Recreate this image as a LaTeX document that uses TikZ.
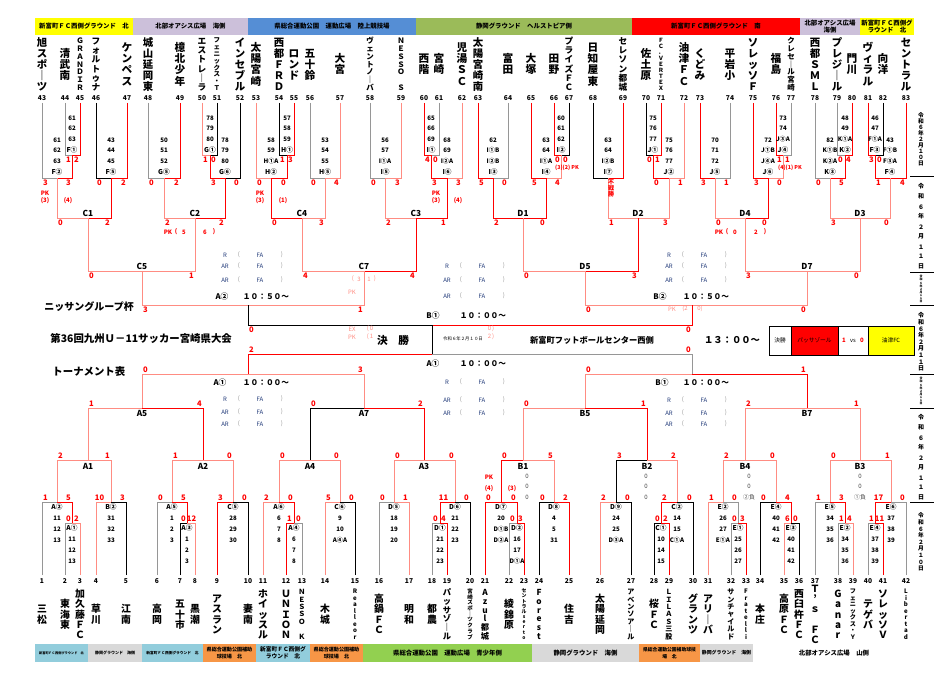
\documentclass[tikz,border=0pt]{standalone}
\usepackage{fontspec}
\setmainfont{Noto Sans CJK JP}
\makeatletter
\def\vt@a#1{\ifx\relax#1\else\hbox to 1em{\hss\vrule height .93em depth .12em width 0pt\relax#1\hss}\expandafter\vt@a\fi}
\newcommand\vt[1]{\vbox{\offinterlineskip\vt@a#1\relax}}
\def\vt@b#1{\ifx\relax#1\else\hbox to 1em{\hss\vrule height \vt@h depth 0pt width 0pt\relax#1\hss}\expandafter\vt@b\fi}
\newcommand\vts[2]{\vbox{\offinterlineskip\def\vt@h{#1}\vt@b#2\relax}}
\makeatother
\definecolor{lnR}{RGB}{255,0,0}
\definecolor{lnS}{RGB}{255,140,130}
\definecolor{lnG}{RGB}{150,150,150}
\definecolor{lnK}{RGB}{0,0,0}
\definecolor{hYel}{RGB}{255,255,0}
\definecolor{hLav}{RGB}{204,192,218}
\definecolor{hBlu}{RGB}{85,142,213}
\definecolor{hGrn}{RGB}{155,187,89}
\definecolor{hRed}{RGB}{255,0,0}
\definecolor{bLB}{RGB}{146,205,220}
\definecolor{bGy}{RGB}{217,217,217}
\definecolor{bOr}{RGB}{247,150,70}
\definecolor{bGr}{RGB}{146,208,80}
\definecolor{refc}{RGB}{31,56,120}
\tikzset{
 sc/.style={inner sep=0pt,text=lnR,font=\fontsize{5.7}{5.7}\selectfont\bfseries},
 tnum/.style={inner sep=0pt,font=\fontsize{5}{5}\selectfont\bfseries},
 tnm/.style={inner sep=0pt},
 stk/.style={inner sep=0pt,font=\fontsize{4.6}{4.6}\selectfont\bfseries},
 mlab/.style={inner sep=0pt,font=\fontsize{6.2}{6.2}\selectfont\bfseries},
 slab/.style={inner sep=0pt,font=\fontsize{5}{5}\selectfont\bfseries},
 hb/.style={inner sep=0pt,align=center,font=\fontsize{4.8}{5.6}\selectfont\bfseries},
 refx/.style={inner sep=0pt,text=refc,font=\fontsize{4.5}{4.5}\selectfont},
 tim/.style={inner sep=0pt,font=\fontsize{5.8}{5.8}\selectfont\bfseries},
 pkr/.style={inner sep=0pt,text=lnR,font=\fontsize{4.5}{4.5}\selectfont\bfseries},
 pks/.style={inner sep=0pt,text=lnS,font=\fontsize{4.5}{4.5}\selectfont},
 zz/.style={inner sep=0pt,text=black!70,font=\fontsize{4.5}{4.5}\selectfont},
 ttl/.style={inner sep=0pt,anchor=west,font=\fontsize{7.5}{7.5}\selectfont\bfseries},
}
\newcommand\TM[8]{\draw[#3] (#1,#2) |- (#7,#8); \draw[#6] (#4,#5) |- (#7,#8);}
\newcommand\ST[5]{\node[sc] (sl#1x#3) at ({#1+3.5},{#3+4.5}) {#4};\node[sc] (sr#2x#3) at ({#2-3.5},{#3+4.5}) {#5};}
\newcommand\SB[5]{\node[sc] (bl#1x#3) at ({#1+3.5},{#3-4.5}) {#4};\node[sc] (br#2x#3) at ({#2-3.5},{#3-4.5}) {#5};}
\newcommand\TT[4]{\node[tnum] (n#1) at (#2,98) {#1};\node[tnm,font=\fontsize{#3}{#3}\selectfont\bfseries] (t#1) at (#2,64) {\vt{#4}};}
\newcommand\TB[4]{\node[tnum] (n#1) at (#2,581) {#1};\node[tnm,font=\fontsize{#3}{#3}\selectfont\bfseries] (t#1) at (#2,614) {\vt{#4}};}
\newcommand\SKT[6]{\node[stk] (k#1x#2a) at (#1,#2) {#3};\node[stk] (k#1x#2b) at (#1,{#2+10.5}) {#4};\node[stk] (k#1x#2c) at (#1,{#2+21}) {#5};\node[slab] (k#1x#2l) at (#1,{#2+32}) {#6};}
\newcommand\SKB[6]{\node[slab] (k#1x#2l) at (#1,#2) {#3};\node[stk] (k#1x#2a) at (#1,{#2+11}) {#4};\node[stk] (k#1x#2b) at (#1,{#2+22}) {#5};\node[stk] (k#1x#2c) at (#1,{#2+33}) {#6};}
\newcommand\RL[3]{\node[refx] (rl#1x#2) at (#1,#2) {#3};\node[refx,text=lnG] (ro#1x#2) at ({#1+14},#2) {(};\node[refx] (rf#1x#2) at ({#1+35},#2) {FA};\node[refx,text=lnG] (rc#1x#2) at ({#1+57},#2) {)};}
\newcommand\RAR[4]{\RL{#1}{#2}{R}\RL{#1}{#3}{AR}\RL{#1}{#4}{AR}}
\begin{document}
\begin{tikzpicture}[x=0.75pt,y=-0.75pt,line width=0.7pt]
\useasboundingbox (0,0) rectangle (948,681);
\fill[white] (0,0) rectangle (948,681);
% ---------- top header bars
\fill[hYel] (35,18) rectangle (133,35); \node[hb] (h1) at (84,26.5) {新富町ＦＣ西側グラウンド　北};
\fill[hLav] (133,18) rectangle (248,35); \node[hb] (h2) at (190.5,26.5) {北部オアシス広場　海側};
\fill[hBlu] (248,18) rectangle (416,35); \node[hb] (h3) at (332,26.5) {県総合運動公園　運動広場　陸上競技場};
\fill[hGrn] (416,18) rectangle (632,35); \node[hb] (h4) at (524,26.5) {静岡グラウンド　ヘルストピア側};
\fill[hRed] (632,18) rectangle (800,35); \node[hb] (h5) at (716,26.5) {新富町ＦＣ西側グラウンド　南};
\fill[hLav] (800,18) rectangle (860,35); \node[hb] (h6) at (830,26.5) {北部オアシス広場\\海側};
\fill[hYel] (860,18) rectangle (914,35); \node[hb] (h7) at (887,26.5) {新富町ＦＣ西側グ\\ラウンド　北};
% ---------- bottom header bars
\fill[bLB] (35,644) rectangle (88,662); \node[hb,font=\fontsize{2.4}{3}\selectfont\bfseries] (b1) at (61.5,653) {新富町ＦＣ西側グラウンド　北};
\fill[bGy] (88,644) rectangle (142,662); \node[hb,font=\fontsize{3}{3.5}\selectfont\bfseries] (b2) at (115,653) {静岡グラウンド　海側};
\fill[bLB] (142,644) rectangle (203,662); \node[hb,font=\fontsize{2.8}{3.3}\selectfont\bfseries] (b3) at (172.5,653) {新富町ＦＣ西側グラウンド　北};
\fill[bOr] (203,644) rectangle (256,662); \node[hb,font=\fontsize{3.8}{4.8}\selectfont\bfseries] (b4) at (229.5,653) {県総合運動公園補助\\球技場　北};
\fill[bLB] (256,644) rectangle (310,662); \node[hb,font=\fontsize{4.3}{5.3}\selectfont\bfseries] (b5) at (283,653) {新富町ＦＣ西側グ\\ラウンド　北};
\fill[bOr] (310,644) rectangle (363,662); \node[hb,font=\fontsize{3.8}{4.8}\selectfont\bfseries] (b6) at (336.5,653) {県総合運動公園補助\\球技場　北};
\fill[bGr] (363,644) rectangle (532,662); \node[hb] (b7) at (447.5,653) {県総合運動公園　運動広場　青少年側};
\fill[bGy] (532,644) rectangle (639,662); \node[hb] (b8) at (585.5,653) {静岡グラウンド　海側};
\fill[bOr] (639,644) rectangle (700,662); \node[hb,font=\fontsize{3.6}{4.8}\selectfont\bfseries] (b9) at (669.5,653) {県総合運動公園補助球技\\場　北};
\fill[bGy] (700,644) rectangle (753,662); \node[hb,font=\fontsize{3.7}{4.5}\selectfont\bfseries] (b10) at (726.5,653) {静岡グラウンド　海側};
\node[hb] (b11) at (834,653) {北部オアシス広場　山側};
% ---------- top teams
\TT{43}{42}{7.8}{旭スポ｜ツ}
\TT{44}{65}{8}{清武南}
\TT{45}{80}{5.6}{ＧＲＡＮＤＩＲ}
\TT{46}{96}{6.5}{フォルトゥナ}
\TT{47}{127}{8}{ケンペス}
\TT{48}{148}{7.8}{城山延岡東}
\TT{49}{180}{8}{檍北少年}
\TT{50}{202}{6.5}{エストレ｜ラ}
\TT{51}{217}{4.9}{フェニックス・Ｔ}
\TT{52}{240}{7.8}{インセブル}
\TT{53}{256}{8}{太陽宮崎}
\TT{54}{279}{7.8}{西都ＦＲＤ}
\TT{55}{294}{8}{ロンド}
\TT{56}{310}{8}{五十鈴}
\TT{57}{340}{8}{大宮}
\TT{58}{370}{5.6}{ヴェントノ｜バ}
\TT{59}{401}{5.6}{ＮＥＳＳＯ　Ｓ}
\TT{60}{424}{8}{西階}
\TT{61}{439}{8}{宮崎}
\TT{62}{462}{8}{児湯ＳＣ}
\TT{63}{478}{7.8}{太陽宮崎南}
\TT{64}{508}{8}{富田}
\TT{65}{531}{8}{大塚}
\TT{66}{554}{8}{田野}
\TT{67}{569}{6.5}{プライズＦＣ}
\TT{68}{593}{8}{日知屋東}
\TT{69}{623}{6.5}{セレソン都城}
\TT{70}{646}{8}{佐土原}
\TT{71}{661}{4.3}{ＦＣ．ＶＥＲＴＥＸ}
\TT{72}{684}{8}{油津ＦＣ}
\TT{73}{700}{8}{くどみ}
\TT{74}{730}{8}{平岩小}
\TT{75}{753}{7.8}{ソレッソＦ}
\TT{76}{776}{8}{福島}
\TT{77}{791}{5.6}{クレセ｜ル宮崎}
\TT{78}{815}{7.8}{西都ＳＭＬ}
\TT{79}{837}{7.8}{プレジ｜ル}
\TT{80}{852}{8}{門川}
\TT{81}{868}{8}{ヴィラル}
\TT{82}{883}{8}{向洋}
\TT{83}{906}{7.8}{セントラル}
% ---------- bottom teams
\TB{1}{42}{7.4}{三松}
\TB{2}{65}{7.4}{東海東}
\TB{3}{80}{7.4}{加久藤ＦＣ}
\TB{4}{96}{7.4}{草川}
\TB{5}{126}{7.4}{江南}
\TB{6}{157}{7.4}{高岡}
\TB{7}{180}{7.4}{五十市}
\TB{8}{195}{7.4}{黒潮}
\TB{9}{217}{7.4}{アスラン}
\TB{10}{248}{7.4}{妻南}
\TB{11}{263}{7.4}{ホイッスル}
\TB{12}{286}{7.4}{ＵＮＩＯＮ}
\TB{13}{302}{5.3}{ＮＥＳＳＯ　Ｋ}
\TB{14}{325}{7.4}{木城}
\TB{15}{355}{4.6}{Realleor}
\TB{16}{379}{7.4}{高鍋ＦＣ}
\TB{17}{409}{7.4}{明和}
\TB{18}{432}{7.4}{都農}
\TB{19}{447}{6.2}{パッサゾ｜ル}
\TB{20}{470}{4.1}{宮崎スポ｜ツクラブ}
\TB{21}{485}{6.2}{Azul都城}
\TB{22}{509}{7.4}{綾錦原}
\TB{23}{524}{3.7}{セントラルserto}
\TB{24}{539}{6.2}{Forest}
\TB{25}{569}{7.4}{住吉}
\TB{26}{600}{7.4}{太陽延岡}
\TB{27}{631}{5.3}{アベンソア｜ル}
\TB{28}{654}{7.4}{桜ＦＣ}
\TB{29}{669}{5.3}{ＬＩＬＡＳ三股}
\TB{30}{693}{7.4}{グランツ}
\TB{31}{708}{7.4}{アリ｜バ}
\TB{32}{731}{5.3}{サンチャイルド}
\TB{33}{746}{4.6}{Fratelli}
\TB{34}{760}{7.4}{本庄}
\TB{35}{784}{7.4}{高原ＦＣ}
\TB{36}{799}{7.4}{西臼杵ＦＣ}
\TB{37}{815}{7.4}{Ｔ’ｓ　ＦＣ}
\TB{38}{838}{7.4}{Ganar}
\TB{39}{853}{4.6}{フェニックス・Ｙ}
\TB{40}{868}{7.4}{テゲバ}
\TB{41}{883}{7.4}{ソレッソＶ}
\TB{42}{906}{4.6}{Libertad}
% ---------- top bracket lines
\TM{65}{103}{lnG}{80}{103}{lnR}{72}{155}
\TM{202}{103}{lnS}{217}{103}{lnK}{210}{155}
\TM{279}{103}{lnK}{294}{103}{lnR}{287}{155}
\TM{424}{103}{lnR}{439}{103}{lnG}{431}{155}
\TM{554}{103}{lnR}{569}{103}{lnK}{561}{155}
\TM{646}{103}{lnK}{661}{103}{lnR}{653}{155}
\TM{776}{103}{lnR}{791}{103}{lnG}{783}{155}
\TM{837}{103}{lnG}{852}{103}{lnR}{845}{155}
\TM{868}{103}{lnR}{883}{103}{lnK}{875}{155}
\TM{42}{103}{lnG}{72}{155}{lnR}{57}{178}
\TM{96}{103}{lnK}{127}{103}{lnR}{111}{178}
\TM{148}{103}{lnG}{180}{103}{lnR}{164}{178}
\TM{210}{155}{lnR}{240}{103}{lnK}{225}{178}
\TM{256}{103}{lnS}{287}{155}{lnR}{271}{178}
\TM{310}{103}{lnG}{340}{103}{lnS}{325}{178}
\TM{370}{103}{lnG}{401}{103}{lnS}{385}{178}
\TM{431}{155}{lnR}{462}{103}{lnS}{447}{178}
\TM{478}{103}{lnR}{508}{103}{lnG}{493}{178}
\TM{531}{103}{lnR}{561}{155}{lnS}{546}{178}
\TM{593}{103}{lnK}{623}{103}{lnR}{608}{178}
\TM{653}{155}{lnR}{684}{103}{lnS}{669}{178}
\TM{700}{103}{lnR}{730}{103}{lnG}{715}{178}
\TM{753}{103}{lnR}{783}{155}{lnS}{768}{178}
\TM{815}{103}{lnG}{845}{155}{lnR}{830}{178}
\TM{875}{155}{lnR}{906}{103}{lnR}{890}{178}
\TM{57}{178}{lnS}{111}{178}{lnR}{88}{218}
\TM{164}{178}{lnS}{225}{178}{lnR}{195}{218}
\TM{271}{178}{lnR}{325}{178}{lnS}{302}{218}
\TM{385}{178}{lnS}{447}{178}{lnR}{416}{218}
\TM{493}{178}{lnR}{546}{178}{lnR}{523}{218}
\TM{608}{178}{lnS}{669}{178}{lnS}{638}{218}
\TM{715}{178}{lnS}{768}{178}{lnR}{745}{218}
\TM{830}{178}{lnS}{890}{178}{lnS}{860}{218}
\TM{88}{218}{lnS}{195}{218}{lnS}{142}{271}
\TM{302}{218}{lnS}{416}{218}{lnR}{364}{271}
\TM{523}{218}{lnS}{638}{218}{lnR}{585}{271}
\TM{745}{218}{lnS}{860}{218}{lnS}{807}{271}
\TM{142}{271}{lnS}{364}{271}{lnS}{248}{305}
\TM{585}{271}{lnS}{807}{271}{lnS}{692}{305}
\TM{248}{305}{lnK}{692}{305}{lnR}{432}{325}
\draw[lnK] (432,325) -- (432,354);
% ---------- bottom bracket lines
\TM{248}{374}{lnR}{692}{374}{lnG}{432}{354}
\TM{142}{408}{lnS}{364}{408}{lnS}{248}{374}
\TM{585}{408}{lnS}{807}{408}{lnR}{692}{374}
\TM{88}{460}{lnS}{203}{460}{lnR}{142}{408}
\TM{310}{460}{lnK}{424}{460}{lnR}{364}{408}
\TM{523}{460}{lnS}{647}{460}{lnR}{585}{408}
\TM{745}{460}{lnS}{860}{460}{lnS}{807}{408}
\TM{57}{502}{lnS}{111}{502}{lnS}{88}{460}
\TM{172}{502}{lnS}{233}{502}{lnS}{203}{460}
\TM{279}{502}{lnS}{340}{502}{lnS}{310}{460}
\TM{394}{502}{lnS}{455}{502}{lnS}{424}{460}
\TM{501}{502}{lnR}{554}{502}{lnS}{523}{460}
\TM{616}{502}{lnK}{677}{502}{lnS}{647}{460}
\TM{723}{502}{lnS}{776}{502}{lnS}{745}{460}
\TM{830}{502}{lnS}{891}{502}{lnS}{860}{460}
\TM{42}{575}{lnG}{72}{523}{lnR}{57}{502}
\TM{96}{575}{lnS}{126}{575}{lnK}{111}{502}
\TM{157}{575}{lnG}{187}{523}{lnR}{172}{502}
\TM{217}{575}{lnR}{248}{575}{lnK}{233}{502}
\TM{263}{575}{lnS}{294}{523}{lnR}{279}{502}
\TM{325}{575}{lnS}{355}{575}{lnK}{340}{502}
\TM{379}{575}{lnG}{409}{575}{lnS}{394}{502}
\TM{440}{523}{lnR}{470}{575}{lnK}{455}{502}
\TM{485}{575}{lnR}{517}{523}{lnR}{501}{502}
\TM{539}{575}{lnK}{569}{575}{lnR}{554}{502}
\TM{600}{575}{lnS}{631}{575}{lnK}{616}{502}
\TM{661}{523}{lnR}{693}{575}{lnK}{677}{502}
\TM{708}{575}{lnS}{738}{523}{lnG}{723}{502}
\TM{760}{575}{lnK}{791}{523}{lnR}{776}{502}
\TM{815}{575}{lnG}{845}{523}{lnR}{830}{502}
\TM{875}{523}{lnR}{906}{575}{lnG}{891}{502}
\TM{65}{575}{lnG}{80}{575}{lnS}{72}{523}
\TM{180}{575}{lnK}{195}{575}{lnS}{187}{523}
\TM{286}{575}{lnR}{302}{575}{lnG}{294}{523}
\TM{432}{575}{lnG}{447}{575}{lnR}{440}{523}
\TM{509}{575}{lnG}{524}{575}{lnR}{517}{523}
\TM{654}{575}{lnK}{669}{575}{lnR}{661}{523}
\TM{731}{575}{lnG}{746}{575}{lnR}{738}{523}
\TM{784}{575}{lnS}{799}{575}{lnK}{791}{523}
\TM{838}{575}{lnG}{853}{575}{lnS}{845}{523}
\TM{868}{575}{lnG}{883}{575}{lnR}{875}{523}
% ---------- top scores
\ST{65}{80}{155}{1}{2}
\ST{202}{217}{155}{1}{0}
\ST{279}{294}{155}{1}{3}
\ST{424}{439}{155}{4}{0}
\ST{554}{569}{155}{0}{0}
\ST{646}{661}{155}{0}{1}
\ST{776}{791}{155}{1}{1}
\ST{837}{852}{155}{0}{4}
\ST{868}{883}{155}{3}{0}
\ST{42}{72}{178}{3}{3}
\ST{96}{127}{178}{0}{2}
\ST{148}{180}{178}{0}{2}
\ST{210}{240}{178}{3}{0}
\ST{256}{287}{178}{0}{0}
\ST{310}{340}{178}{0}{4}
\ST{370}{401}{178}{0}{3}
\ST{431}{462}{178}{3}{3}
\ST{478}{508}{178}{5}{0}
\ST{531}{561}{178}{5}{4}
\ST{653}{684}{178}{0}{1}
\ST{700}{730}{178}{3}{1}
\ST{753}{783}{178}{3}{0}
\ST{815}{845}{178}{0}{5}
\ST{875}{906}{178}{1}{4}
\ST{57}{111}{218}{0}{2}
\ST{164}{225}{218}{2}{2}
\ST{271}{325}{218}{0}{3}
\ST{385}{447}{218}{2}{1}
\ST{493}{546}{218}{2}{0}
\ST{608}{669}{218}{1}{3}
\ST{715}{768}{218}{0}{0}
\ST{830}{890}{218}{3}{0}
\ST{88}{195}{271}{0}{1}
\ST{302}{416}{271}{4}{4}
\ST{523}{638}{271}{0}{3}
\ST{745}{860}{271}{3}{0}
\ST{142}{364}{305}{3}{1}
\ST{585}{807}{305}{0}{0}
\ST{248}{692}{325}{0}{0}
% ---------- bottom scores
\SB{65}{80}{523}{0}{2}
\SB{180}{195}{523}{0}{12}
\SB{286}{302}{523}{1}{0}
\SB{432}{447}{523}{0}{4}
\SB{509}{524}{523}{0}{3}
\SB{654}{669}{523}{0}{2}
\SB{731}{746}{523}{0}{3}
\SB{784}{799}{523}{6}{0}
\SB{838}{853}{523}{1}{4}
\SB{868}{883}{523}{1}{11}
\SB{42}{72}{502}{1}{5}
\SB{96}{126}{502}{10}{3}
\SB{157}{187}{502}{0}{5}
\SB{217}{248}{502}{3}{0}
\SB{263}{294}{502}{2}{0}
\SB{325}{355}{502}{5}{0}
\SB{379}{409}{502}{0}{1}
\SB{440}{470}{502}{11}{0}
\SB{485}{517}{502}{0}{0}
\SB{539}{569}{502}{0}{2}
\SB{600}{631}{502}{2}{0}
\SB{661}{693}{502}{2}{0}
\SB{708}{738}{502}{1}{0}
\SB{760}{791}{502}{0}{4}
\SB{815}{845}{502}{1}{3}
\SB{875}{906}{502}{17}{0}
\SB{57}{111}{460}{2}{1}
\SB{172}{233}{460}{1}{0}
\SB{279}{340}{460}{0}{0}
\SB{394}{455}{460}{0}{0}
\SB{501}{554}{460}{0}{5}
\SB{616}{677}{460}{3}{2}
\SB{723}{776}{460}{2}{0}
\SB{830}{891}{460}{0}{1}
\SB{88}{203}{408}{1}{4}
\SB{310}{424}{408}{0}{2}
\SB{523}{647}{408}{0}{1}
\SB{745}{860}{408}{2}{1}
\SB{142}{364}{374}{0}{3}
\SB{585}{807}{374}{0}{1}
\SB{248}{692}{354}{2}{0}
% ---------- referee stacks
\SKT{72}{118}{61}{62}{63}{F①}
\SKT{210}{118}{78}{79}{80}{G①}
\SKT{287}{118}{57}{58}{59}{H①}
\SKT{431}{118}{65}{66}{69}{I①}
\SKT{561}{118}{60}{61}{62}{I②}
\SKT{653}{118}{75}{76}{77}{J①}
\SKT{783}{118}{73}{74}{J③A}{J④}
\SKT{845}{118}{48}{49}{K①A}{K②}
\SKT{875}{118}{46}{47}{F①A}{F③}
\SKT{57}{140}{61}{62}{63}{F②}
\SKT{111}{140}{43}{44}{45}{F⑤}
\SKT{164}{140}{50}{51}{52}{G⑤}
\SKT{225}{140}{78}{79}{80}{G⑥}
\SKT{271}{140}{58}{59}{H①A}{H②}
\SKT{325}{140}{53}{54}{55}{H⑤}
\SKT{385}{140}{56}{57}{I①A}{I⑤}
\SKT{447}{140}{68}{69}{I②A}{I⑥}
\SKT{493}{140}{62}{I①B}{I②B}{I③}
\SKT{546}{140}{63}{64}{I①A}{I④}
\SKT{608}{140}{63}{64}{I②B}{I⑦}
\SKT{669}{140}{75}{76}{77}{J②}
\SKT{715}{140}{70}{71}{72}{J⑤}
\SKT{768}{140}{72}{J①B}{J④A}{J⑥}
\SKT{830}{140}{82}{K①B}{K②A}{K③}
\SKT{890}{140}{43}{F①B}{F③A}{F④}
\SKB{57}{507}{A②}{11}{12}{13}
\SKB{111}{507}{B②}{31}{32}{33}
\SKB{172}{507}{A⑤}{1}{2}{3}
\SKB{233}{507}{C⑤}{28}{29}{30}
\SKB{279}{507}{A⑥}{6}{7}{8}
\SKB{340}{507}{C⑥}{9}{10}{A④A}
\SKB{394}{507}{D⑤}{18}{19}{20}
\SKB{455}{507}{D⑥}{21}{22}{23}
\SKB{501}{507}{D⑦}{20}{D①B}{D②A}
\SKB{554}{507}{D⑧}{4}{5}{31}
\SKB{616}{507}{D⑨}{24}{25}{D③A}
\SKB{677}{507}{C②}{14}{15}{C①A}
\SKB{723}{507}{E②}{26}{27}{E①A}
\SKB{776}{507}{E④}{40}{41}{42}
\SKB{830}{507}{E⑤}{34}{35}{36}
\SKB{891}{507}{E⑥}{37}{38}{39}
\SKB{72}{528}{A①}{11}{12}{13}
\SKB{187}{528}{A③}{1}{2}{3}
\SKB{294}{528}{A④}{6}{7}{8}
\SKB{440}{528}{D①}{21}{22}{23}
\SKB{517}{528}{D②}{16}{17}{D①A}
\SKB{661}{528}{C①}{10}{14}{15}
\SKB{738}{528}{E①}{25}{26}{27}
\SKB{791}{528}{E③}{40}{41}{42}
\SKB{845}{528}{E②}{34}{35}{36}
\SKB{875}{528}{E④}{37}{38}{39}
% ---------- match labels
\node[mlab] (mC1) at (88,213) {C1};
\node[mlab] (mC2) at (195,213) {C2};
\node[mlab] (mC4) at (302,213) {C4};
\node[mlab] (mC3) at (416,213) {C3};
\node[mlab] (mD1) at (523,213) {D1};
\node[mlab] (mD2) at (638,213) {D2};
\node[mlab] (mD4) at (745,213) {D4};
\node[mlab] (mD3) at (860,213) {D3};
\node[mlab] (mC5) at (142,266) {C5};
\node[mlab] (mC7) at (364,266) {C7};
\node[mlab] (mD5) at (585,266) {D5};
\node[mlab] (mD7) at (807,266) {D7};
\node[mlab] (mA1) at (88,466) {A1};
\node[mlab] (mA2) at (203,466) {A2};
\node[mlab] (mA4) at (310,466) {A4};
\node[mlab] (mA3) at (424,466) {A3};
\node[mlab] (mB1) at (523,466) {B1};
\node[mlab] (mB2) at (647,466) {B2};
\node[mlab] (mB4) at (745,466) {B4};
\node[mlab] (mB3) at (860,466) {B3};
\node[mlab] (mA5) at (142,413) {A5};
\node[mlab] (mA7) at (364,413) {A7};
\node[mlab] (mB5) at (585,413) {B5};
\node[mlab] (mB7) at (807,413) {B7};
% ---------- times
\node[tim] (tA2) at (222,297) {A②}; \node[tim] (tA2t) at (266,297) {１０：５０～};
\node[tim] (tB2) at (660,297) {B②}; \node[tim] (tB2t) at (706,297) {１０：５０～};
\node[tim] (tB1) at (433,316) {B①}; \node[tim] (tB1t) at (483,316) {１０：００～};
\node[tim] (tA1c) at (433,364) {A①}; \node[tim] (tA1ct) at (483,364) {１０：００～};
\node[tim] (tA1) at (220,383) {A①}; \node[tim] (tA1t) at (266,383) {１０：００～};
\node[tim] (tB1r) at (662,383) {B①}; \node[tim] (tB1rt) at (706,383) {１０：００～};
% ---------- referee blocks
\RAR{225}{255}{266}{280}
\RAR{447}{266}{280}{296}
\RAR{669}{255}{266}{280}
\RAR{225}{399}{412}{424}
\RAR{447}{382}{400}{413}
\RAR{669}{400}{413}{424}
% ---------- PK notes
\node[pkr,font=\fontsize{4}{4}\selectfont\bfseries] (pk1) at (567,168) {(3)(2) PK};
\node[pkr,font=\fontsize{4}{4}\selectfont\bfseries] (pk2) at (790,168) {(4)(1) PK};
\node[pkr] (pk3) at (45,193) {PK}; \node[pkr] (pk3a) at (45,201) {(3)}; \node[pkr] (pk3b) at (68,201) {(4)};
\node[pkr] (pk4) at (260,193) {PK}; \node[pkr] (pk4a) at (260,201) {(3)}; \node[pkr] (pk4b) at (283,201) {(1)};
\node[pkr] (pk5) at (436,193) {PK}; \node[pkr] (pk5a) at (436,201) {(3)}; \node[pkr] (pk5b) at (458,201) {(4)};
\node[pkr] (pk6) at (168,232) {PK}; \node[pkr] (pk6a) at (176,232) {(}; \node[pkr] (pk6b) at (184,232) {5}; \node[pkr] (pk6c) at (205,232) {6}; \node[pkr] (pk6d) at (214,232) {)};
\node[pkr] (pk7) at (719,232) {PK}; \node[pkr] (pk7a) at (727,232) {(}; \node[pkr] (pk7b) at (735,232) {0}; \node[pkr] (pk7c) at (756,232) {2}; \node[pkr] (pk7d) at (765,232) {)};
\node[pks] (pk8a) at (353,279) {(}; \node[pks] (pk8b) at (359,279) {3}; \node[pks] (pk8c) at (369,279) {1}; \node[pks] (pk8d) at (375,279) {)};
\node[pks] (pk8) at (352,292) {PK};
\node[pks] (pk9) at (672,309) {PK}; \node[pks] (pk9a) at (685,309) {(2}; \node[pks] (pk9b) at (700,309) {0)};
\node[pks] (ex1) at (352,329) {EX}; \node[pks] (ex1a) at (370,329) {(\,0};
\node[pks] (ex2) at (352,337) {PK}; \node[pks] (ex2a) at (370,337) {(\,1};
\node[pks] (ex3) at (491,329) {0\,)}; \node[pks] (ex4) at (491,337) {2\,)};
\node[pkr] (pk10) at (489,477) {PK}; \node[pkr] (pk10a) at (489,489) {(4)}; \node[pkr] (pk10b) at (512,489) {(3)};
\node[pkr] (fs68) at (611,188) {\vt{不戦勝}};
% ---------- B-level extras
\node[zz] (z1a) at (527,476) {0}; \node[zz] (z1b) at (527,486) {0}; \node[zz] (z1c) at (527,497) {0};
\node[zz] (z2a) at (646,476) {0}; \node[zz] (z2b) at (646,486) {0}; \node[zz] (z2c) at (646,497) {0};
\node[zz] (z3a) at (749,476) {0}; \node[zz] (z3b) at (749,486) {0}; \node[zz] (z3c) at (749,497) {②負};
\node[zz] (z4a) at (860,476) {0}; \node[zz] (z4b) at (860,486) {0}; \node[zz] (z4c) at (860,497) {①負};
% ---------- titles
\node[ttl] (ttl1) at (44,307) {ニッサングループ杯};
\node[ttl,font=\fontsize{7.8}{7.8}\selectfont\bfseries] (ttl2) at (50,339) {第36回九州Ｕ－11サッカー宮崎県大会};
\node[ttl,font=\fontsize{7.8}{7.8}\selectfont\bfseries] (ttl3) at (52,372) {トーナメント表};
% ---------- final info
\node[inner sep=0pt,font=\fontsize{8}{8}\selectfont\bfseries] (fin) at (393,340) {決　勝};
\node[inner sep=0pt,font=\fontsize{3.3}{3.3}\selectfont] (fdate) at (463,339) {令和６年２月１０日};
\node[inner sep=0pt,font=\fontsize{6.2}{6.2}\selectfont\bfseries] (fven) at (592,340) {新富町フットボールセンター西側};
\node[inner sep=0pt,font=\fontsize{7}{7}\selectfont\bfseries] (ftime) at (732,340) {１３：００～};
\fill[hRed] (791,326) rectangle (838,355);
\fill[hYel] (868,326) rectangle (914,355);
\draw[lnK,line width=0.6pt] (769,326) rectangle (914,355);
\draw[lnK,line width=0.6pt] (791,326) -- (791,355) (838,326) -- (838,355) (868,326) -- (868,355);
\node[inner sep=0pt,font=\fontsize{4.3}{4.3}\selectfont] (r1) at (780,340.5) {決勝};
\node[inner sep=0pt,font=\fontsize{4.3}{4.3}\selectfont] (r2) at (814.5,340.5) {パッサゾール};
\node[inner sep=0pt,text=lnR,font=\fontsize{4.5}{4.5}\selectfont\bfseries] (r3) at (844,340.5) {1};
\node[inner sep=0pt,font=\fontsize{4.3}{4.3}\selectfont] (r4) at (853,340.5) {vs};
\node[inner sep=0pt,text=lnR,font=\fontsize{4.5}{4.5}\selectfont\bfseries] (r5) at (862,340.5) {0};
\node[inner sep=0pt,font=\fontsize{4.3}{4.3}\selectfont] (r6) at (891,340.5) {油津FC};
% ---------- right date column
\foreach \yy in {176,272,305,374,408,502} \draw[lnK,line width=0.6pt] (910,\yy) -- (934,\yy);
\node[inner sep=0pt,font=\fontsize{4.3}{4.3}\selectfont\bfseries] (d1) at (921,139) {\vt{令和６年２月１０日}};
\node[inner sep=0pt,font=\fontsize{4.5}{4.5}\selectfont\bfseries] (d2) at (921,224) {\vts{7.3pt}{令和６年２月１１日}};
\node[inner sep=0pt,font=\fontsize{2.2}{2.2}\selectfont\bfseries] (d3) at (921,289) {\vt{令和６年２月１１日}};
\node[inner sep=0pt,font=\fontsize{4.5}{4.5}\selectfont\bfseries] (d4) at (921,341) {\vts{4.8pt}{令和６年２月１１日}};
\node[inner sep=0pt,font=\fontsize{2.2}{2.2}\selectfont\bfseries] (d5) at (921,391) {\vt{令和６年２月１１日}};
\node[inner sep=0pt,font=\fontsize{4.5}{4.5}\selectfont\bfseries] (d6) at (921,455) {\vts{7.3pt}{令和６年２月１１日}};
\node[inner sep=0pt,font=\fontsize{4.3}{4.3}\selectfont\bfseries] (d7) at (921,541) {\vts{4.8pt}{令和６年２月１０日}};
\end{tikzpicture}
\end{document}
